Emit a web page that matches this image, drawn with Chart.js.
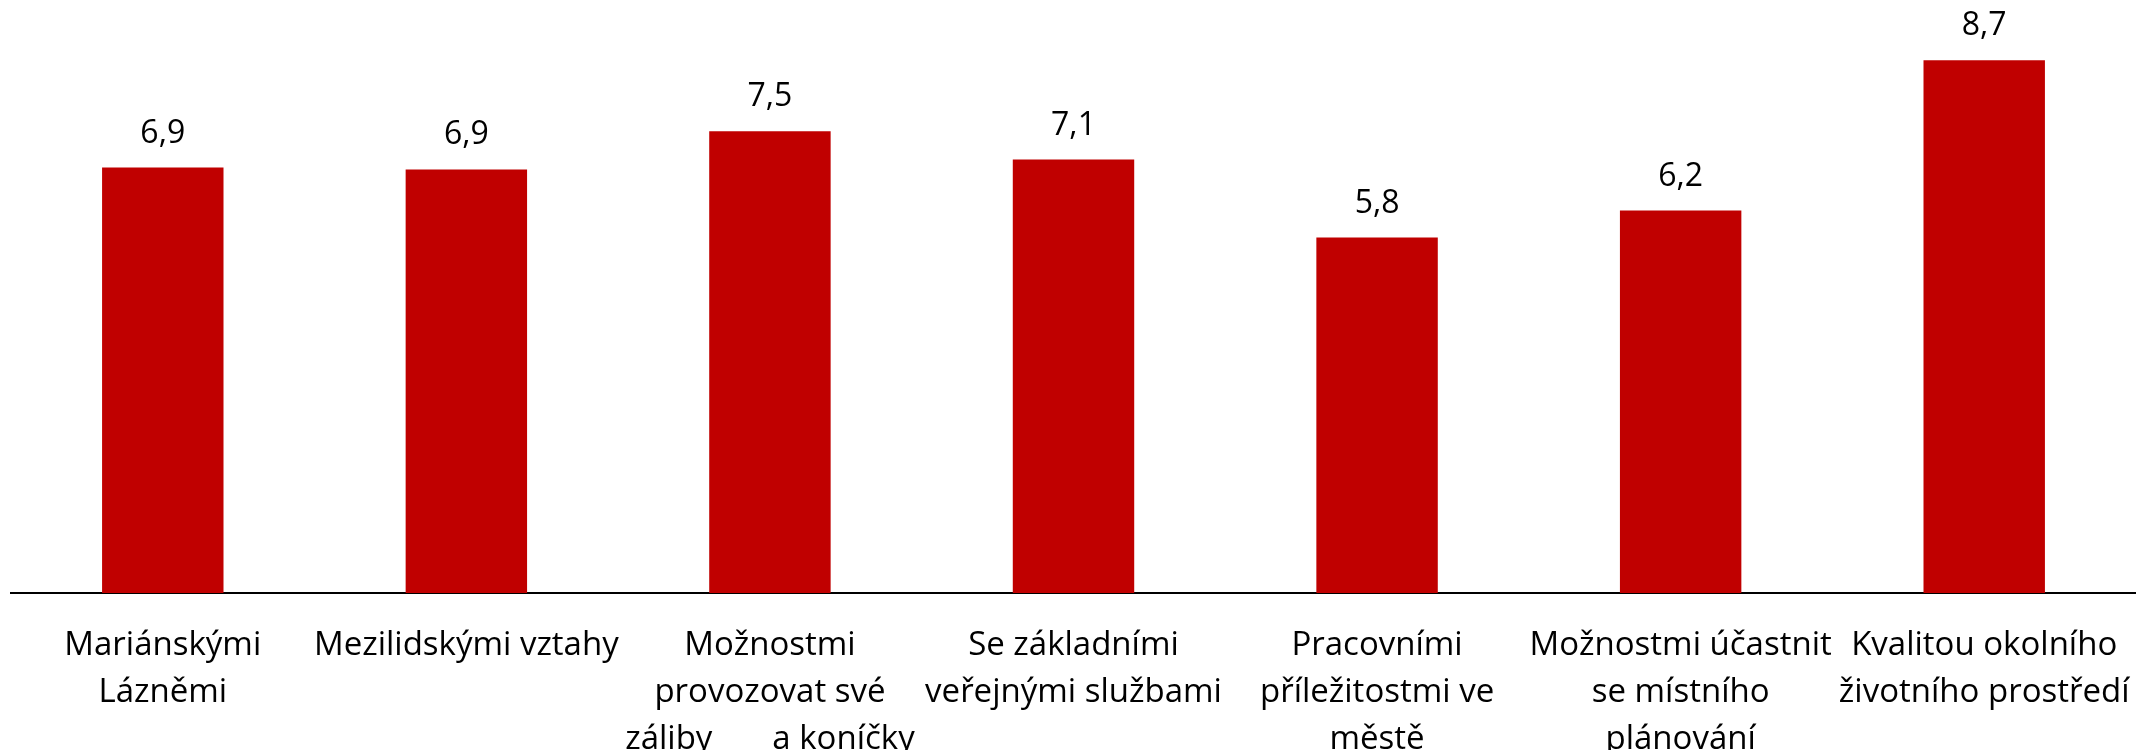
<!DOCTYPE html>
<html>
<head>
<meta charset="utf-8">
<script src="https://cdn.jsdelivr.net/npm/chart.js@4/dist/chart.umd.min.js"></script>
<style>
  html, body { margin: 0; padding: 0; background: #fff; }
  #wrap { width: 2136px; height: 750px; }
</style>
</head>
<body>
<div id="wrap"><canvas id="c" width="2136" height="750"></canvas></div>
<script>
const categories = [
  ["Mariánskými", "Lázněmi"],
  ["Mezilidskými vztahy"],
  ["Možnostmi", "provozovat své", "záliby       a koníčky"],
  ["Se základními", "veřejnými službami"],
  ["Pracovními", "příležitostmi ve", "městě"],
  ["Možnostmi účastnit", "se místního", "plánování"],
  ["Kvalitou okolního", "životního prostředí"]
];
const values = [6.93, 6.90, 7.52, 7.06, 5.79, 6.23, 8.68];
const yMin = 0;
const yMax = 9.66;

const FONT = "'Open Sans', 'DejaVu Sans', sans-serif";

const valueLabels = {
  id: 'valueLabels',
  afterDatasetsDraw(chart) {
    const ctx = chart.ctx;
    const meta = chart.getDatasetMeta(0);
    ctx.save();
    ctx.font = "32px " + FONT;
    ctx.fillStyle = '#000000';
    ctx.textAlign = 'center';
    ctx.textBaseline = 'alphabetic';
    meta.data.forEach((bar, i) => {
      const txt = values[i].toFixed(1).replace('.', ',');
      ctx.fillText(txt, bar.x, bar.y - 25);
    });
    ctx.restore();
  }
};

new Chart(document.getElementById('c'), {
  type: 'bar',
  data: {
    labels: categories,
    datasets: [{
      data: values,
      backgroundColor: '#C00000',
      borderWidth: 0,
      categoryPercentage: 1.0,
      barPercentage: 0.4
    }]
  },
  options: {
    responsive: false,
    animation: false,
    devicePixelRatio: 1,
    layout: { padding: { left: 11, right: 0, top: 0, bottom: 0 } },
    plugins: {
      legend: { display: false },
      tooltip: { enabled: false },
      title: { display: false }
    },
    scales: {
      x: {
        grid: { display: false, drawTicks: false },
        border: { display: true, color: '#000000', width: 2 },
        ticks: {
          color: '#000000',
          font: { family: FONT, size: 33, lineHeight: 1.42 },
          padding: 29,
          maxRotation: 0,
          minRotation: 0,
          autoSkip: false
        },
        afterFit(axis) {
          axis.height = 157;
          axis.paddingLeft = 0;
          axis.paddingRight = 0;
        }
      },
      y: {
        display: false,
        min: yMin,
        max: yMax
      }
    }
  },
  plugins: [valueLabels]
});
</script>
</body>
</html>
